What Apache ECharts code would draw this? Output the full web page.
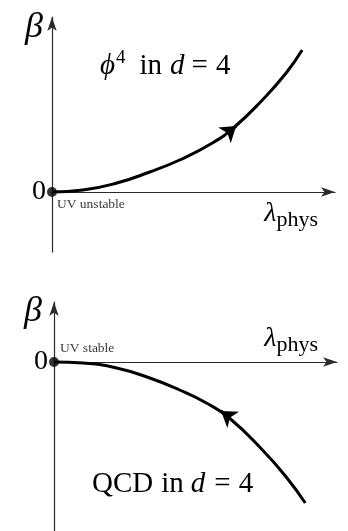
<!DOCTYPE html>
<html>
<head>
<meta charset="utf-8">
<style>
  html, body { margin: 0; padding: 0; background: #fff; }
  #chart { width: 348px; height: 531px; }
</style>
<script src="https://cdn.jsdelivr.net/npm/echarts@6/dist/echarts.min.js"></script>
</head>
<body>
<div id="chart"></div>
<script>
// phi^4 in d=4: beta rises from the UV-unstable fixed point
const phi4Lambda = [0, 1.12, 2.35, 3.54, 4.62, 5.81, 6.61, 7.62, 8.48, 9.06];
const phi4Beta   = [0, 0.10, 0.45, 1.00, 1.60, 2.45, 3.25, 4.60, 5.95, 7.10];
// flow arrow on the phi^4 curve (pointing away from the origin)
const phi4ArrowLambda = [6.40, 6.67];
const phi4ArrowBeta   = [3.00, 3.30];

// QCD in d=4: beta falls below zero away from the UV-stable fixed point
const qcdLambda = [0, 1.05, 2.27, 3.47, 4.55, 5.52, 6.35, 7.55, 8.41, 9.10];
const qcdBeta   = [0, -0.05, -0.30, -0.80, -1.40, -2.05, -2.80, -4.40, -5.75, -7.05];
// flow arrow on the QCD curve (pointing toward the origin)
const qcdArrowLambda = [6.35, 6.05];
const qcdArrowBeta   = [-2.75, -2.45];

// fixed points
const fixedLambda = [0];
const fixedBeta   = [0];
const zeroTicks   = [0];

const SERIF = '"Liberation Serif", "DejaVu Serif", serif';
const AXIS_COLOR = '#2a2a2a';

const pairs = (xs, ys) => xs.map((x, i) => [x, ys[i]]);

function xAxisFor(gridIndex, max, nameStyle, nameGap) {
  return {
    gridIndex, type: 'value', min: 0, max,
    axisLine: {
      onZero: true,
      lineStyle: { color: AXIS_COLOR, width: 1.2 },
      symbol: ['none', 'arrow'], symbolSize: [7, 14]
    },
    axisTick: { show: false }, axisLabel: { show: false }, splitLine: { show: false },
    name: '{l|λ}{s|phys}',
    nameLocation: 'end',
    nameGap,
    nameTextStyle: nameStyle
  };
}

function yAxisFor(gridIndex, min, max, nameGap, padRight) {
  return {
    gridIndex, type: 'value', min, max,
    axisLine: {
      onZero: true,
      lineStyle: { color: AXIS_COLOR, width: 1.2 },
      symbol: ['none', 'arrow'], symbolSize: [7, 14]
    },
    axisTick: { show: false }, splitLine: { show: false },
    axisLabel: {
      customValues: zeroTicks,
      fontFamily: SERIF, fontSize: 28, color: '#000', margin: 6
    },
    name: 'β',
    nameLocation: 'end',
    nameGap,
    nameTextStyle: {
      fontFamily: SERIF, fontStyle: 'italic', fontSize: 36, color: '#000',
      align: 'right', verticalAlign: 'middle', padding: [0, padRight, 0, 0]
    }
  };
}

const lambdaRich = {
  l: { fontFamily: SERIF, fontStyle: 'italic', fontSize: 28, color: '#000', lineHeight: 34, verticalAlign: 'middle' },
  s: { fontFamily: SERIF, fontSize: 22, color: '#000', lineHeight: 34, verticalAlign: 'bottom' }
};

const curveStyle = { color: '#000', width: 3 };

function curve(idx, xs, ys) {
  return {
    type: 'line', xAxisIndex: idx, yAxisIndex: idx,
    data: pairs(xs, ys), smooth: true, showSymbol: false,
    lineStyle: curveStyle, z: 3, silent: true
  };
}

function arrow(idx, xs, ys) {
  return {
    type: 'lines', coordinateSystem: 'cartesian2d', xAxisIndex: idx, yAxisIndex: idx,
    data: [{ coords: pairs(xs, ys) }],
    symbol: ['none', 'arrow'], symbolSize: [8, 15],
    lineStyle: { color: '#000', width: 3, opacity: 1, curveness: 0 },
    z: 4, silent: true
  };
}

function fixedPoint(idx, text, labelPos, vAlign) {
  return {
    type: 'scatter', xAxisIndex: idx, yAxisIndex: idx,
    data: pairs(fixedLambda, fixedBeta), symbolSize: 10,
    itemStyle: { color: '#000' }, z: 5, silent: true,
    label: {
      show: true, formatter: text, position: labelPos,
      align: 'left', verticalAlign: vAlign,
      fontFamily: SERIF, fontSize: 13.5, color: '#000'
    }
  };
}

// math-style text token: italic for variables, upright otherwise
const tok = (italic, size, vAlign, padLeft) => ({
  fontFamily: SERIF, fontStyle: italic ? 'italic' : 'normal', fontWeight: 'normal',
  fontSize: size, color: '#000', lineHeight: 34, verticalAlign: vAlign,
  padding: [0, 0, 0, padLeft || 0]
});

const chart = echarts.init(document.getElementById('chart'), null, { renderer: 'canvas' });
chart.setOption({
  animation: false,
  backgroundColor: '#fff',
  title: [
    {
      text: '{phi|ϕ}{sup|4}{kw|in}{v|d}{eq|=}{n|4}',
      left: 100, top: 49, padding: 0,
      textStyle: {
        fontWeight: 'normal',
        rich: {
          phi: tok(true, 29, 'middle'),
          sup: tok(false, 19, 'top', 1),
          kw: tok(false, 29, 'middle', 14),
          v: tok(true, 29, 'middle', 8),
          eq: tok(false, 29, 'middle', 7),
          n: tok(false, 29, 'middle', 8)
        }
      }
    },
    {
      text: '{kw|QCD}{kw2|in}{v|d}{eq|=}{n|4}',
      left: 92, top: 467, padding: 0,
      textStyle: {
        fontWeight: 'normal',
        rich: {
          kw: tok(false, 29, 'middle'),
          kw2: tok(false, 29, 'middle', 8),
          v: tok(true, 29, 'middle', 7),
          eq: tok(false, 29, 'middle', 9),
          n: tok(false, 29, 'middle', 8)
        }
      }
    }
  ],
  grid: [
    { left: 52, right: 13, top: 17, bottom: 279 },
    { left: 54, right: 11, top: 302, bottom: 0 }
  ],
  xAxis: [
    xAxisFor(0, 10.25, { rich: lambdaRich, align: 'right', verticalAlign: 'top', padding: [5, 0, 0, 0] }, -17),
    xAxisFor(1, 10.25, { rich: lambdaRich, align: 'right', verticalAlign: 'bottom', padding: [0, 0, 6, 0] }, -19)
  ],
  yAxis: [
    yAxisFor(0, -3, 8.75, -11, 9),
    yAxisFor(1, -8.45, 3.0, -10, 12)
  ],
  series: [
    curve(0, phi4Lambda, phi4Beta),
    arrow(0, phi4ArrowLambda, phi4ArrowBeta),
    fixedPoint(0, 'UV unstable', [10, 10], 'top'),
    curve(1, qcdLambda, qcdBeta),
    arrow(1, qcdArrowLambda, qcdArrowBeta),
    fixedPoint(1, 'UV stable', [11, -2], 'bottom')
  ]
});
</script>
</body>
</html>
